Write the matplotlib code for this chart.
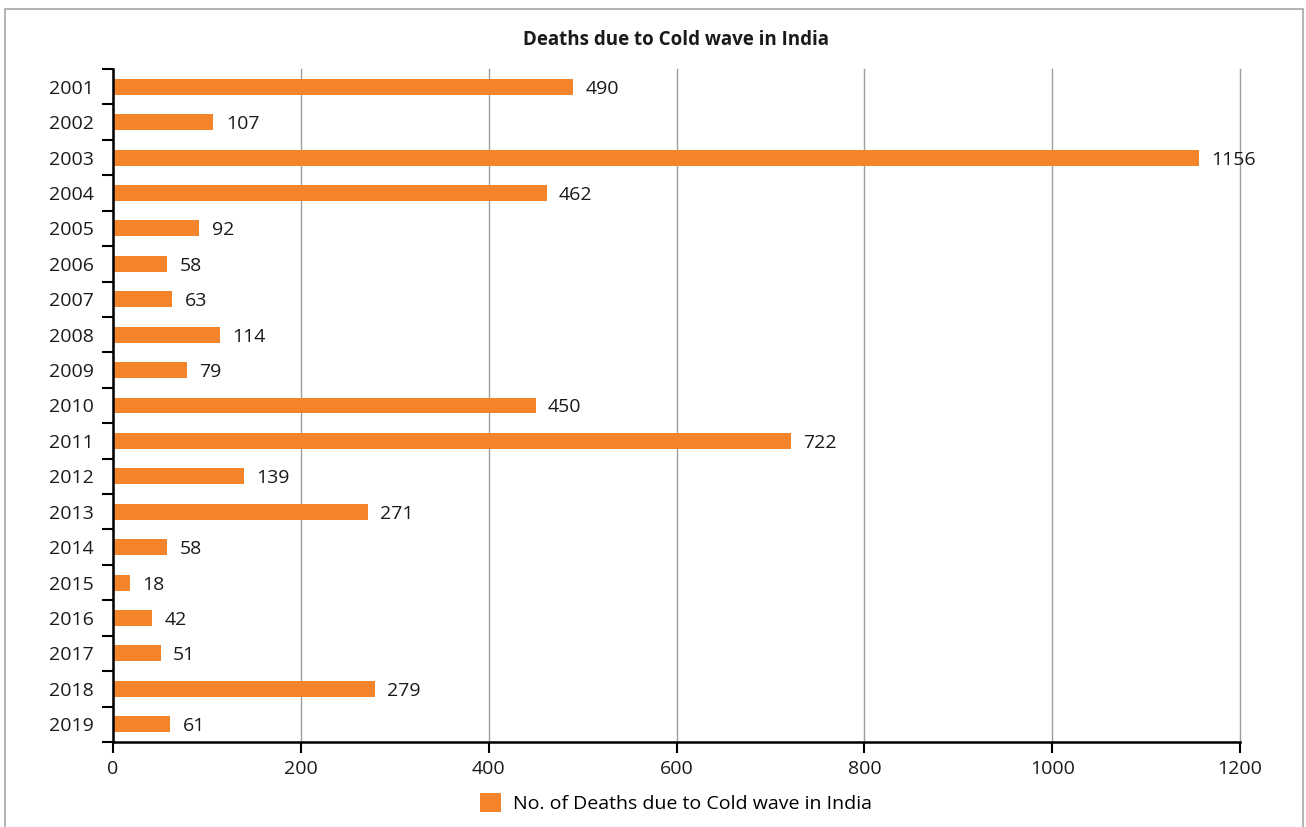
import matplotlib.pyplot as plt
from matplotlib.patches import Rectangle, Patch

# Data
years = ['2001', '2002', '2003', '2004', '2005', '2006', '2007', '2008', '2009', '2010',
         '2011', '2012', '2013', '2014', '2015', '2016', '2017', '2018', '2019']
deaths = [490, 107, 1156, 462, 92, 58, 63, 114, 79, 450,
          722, 139, 271, 58, 18, 42, 51, 279, 61]
x_ticks = [0, 200, 400, 600, 800, 1000, 1200]

bar_color = '#F4842A'
plt.rcParams['font.family'] = ['Open Sans', 'DejaVu Sans']

fig = plt.figure(figsize=(13.06, 8.27), dpi=100)
ax = fig.add_axes([113 / 1306, 85 / 827, 1127 / 1306, 673 / 827])

# outer gray frame
fig.patches.append(Rectangle((5 / 1306, -0.05), 1298 / 1306, 1.05 - 9 / 827,
                             transform=fig.transFigure, fill=False,
                             edgecolor='#a6a6a6', linewidth=1.2))

pos = list(range(len(years)))
ax.barh(pos, deaths, height=0.45, color=bar_color, zorder=3)
ax.set_ylim(len(years) - 0.5, -0.5)
ax.set_xlim(0, 1200)

# value labels
for p, v in zip(pos, deaths):
    ax.text(v + 13, p, str(v), va='center_baseline', ha='left', fontsize=14,
            color='#1a1a1a', zorder=4)

# y axis: labels centered, ticks on band boundaries
ax.set_yticks(pos)
ax.set_yticklabels(years, fontsize=14, color='#1a1a1a')
ax.tick_params(axis='y', which='major', length=0, pad=14)
ax.set_yticks([p - 0.5 for p in pos] + [len(years) - 0.5], minor=True)
ax.tick_params(axis='y', which='minor', length=8, width=1.5, direction='out', color='black')

ax.set_xticks(x_ticks)
ax.set_xticklabels([str(t) for t in x_ticks], fontsize=14, color='#1a1a1a')
ax.tick_params(axis='x', length=8, width=1.5, direction='out', color='black', pad=5)

ax.grid(axis='x', color='#9e9e9e', linewidth=1, zorder=0)
for gl in ax.get_xgridlines():
    gl.set_clip_on(False)
for s in ['top', 'right']:
    ax.spines[s].set_visible(False)
ax.spines['left'].set_linewidth(1.8)
ax.spines['bottom'].set_linewidth(1.8)
ax.spines['left'].set_zorder(5)

fig.text(676 / 1306, 1 - 40 / 827, 'Deaths due to Cold wave in India', ha='center', va='center',
         fontsize=13.5, fontweight='bold', color='#1a1a1a')

handle = Patch(facecolor=bar_color, edgecolor='none')
fig.legend([handle], ['No. of Deaths due to Cold wave in India'], loc='center',
           bbox_to_anchor=(676 / 1306, 1 - 803 / 827), frameon=False, fontsize=14,
           handlelength=1.1, handleheight=1.1, handletextpad=0.6)

plt.savefig('out.png', dpi=100)
